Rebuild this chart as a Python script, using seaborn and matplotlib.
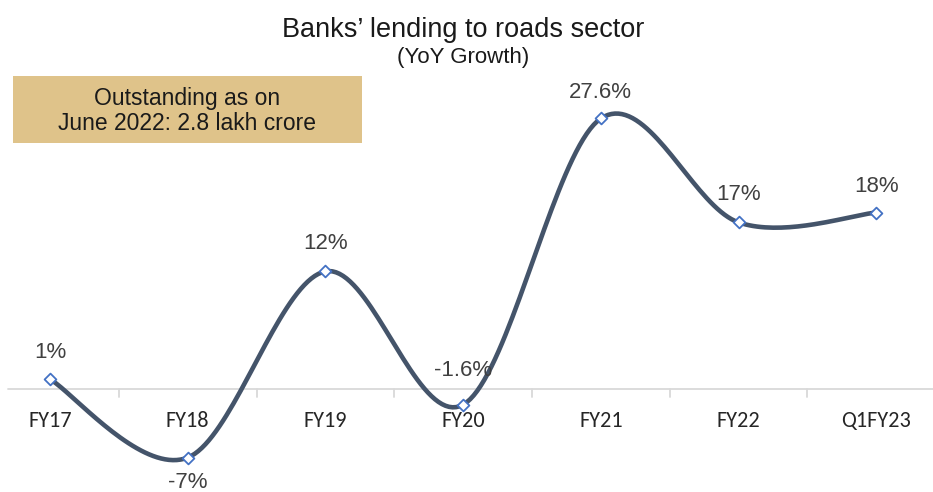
import numpy as np
import pandas as pd
import matplotlib
matplotlib.use("Agg")
import matplotlib.pyplot as plt
from matplotlib.patches import Rectangle
import seaborn as sns

periods = ["FY17", "FY18", "FY19", "FY20", "FY21", "FY22", "Q1FY23"]
growth = [1.0, -7.0, 12.0, -1.6, 27.6, 17.0, 18.0]
value_labels = ["1%", "-7%", "12%", "-1.6%", "27.6%", "17%", "18%"]
label_offsets = [2.7, -2.5, 2.8, 3.5, 2.7, 2.8, 2.7]

LINE = "#44546A"
MARKER_EDGE = "#4472C4"
TEXT = "#404040"
BOX = "#DFC38A"

sns.set_theme(style="white")
plt.rcParams["font.family"] = ["Liberation Sans", "DejaVu Sans"]

fig = plt.figure(figsize=(9.33, 4.92), dpi=100)
ax = fig.add_axes([0, 0, 1, 1])

# Smooth curve through the points (cardinal spline, Excel-style smoothing)
x = np.arange(len(growth), dtype=float)
y = np.array(growth)
xp = np.concatenate([[x[0] - (x[1] - x[0])], x, [x[-1] + (x[-1] - x[-2])]])
yp = np.concatenate([[y[0]], y, [y[-1]]])
xs, ys = [], []
t = np.linspace(0, 1, 40)
for i in range(len(x) - 1):
    p0, p1, p2, p3 = [np.array([xp[i + k], yp[i + k]]) for k in range(4)]
    if i == 0:
        p0 = p1
    if i == len(x) - 2:
        p3 = p2
    c1 = p1 + (p2 - p0) / 6
    c2 = p2 - (p3 - p1) / 6
    for tt in t[:-1] if i < len(x) - 2 else t:
        b = ((1 - tt) ** 3) * p1 + 3 * ((1 - tt) ** 2) * tt * c1 + 3 * (1 - tt) * tt ** 2 * c2 + tt ** 3 * p2
        xs.append(b[0])
        ys.append(b[1])
curve = pd.DataFrame({"x": xs, "y": ys})
points = pd.DataFrame({"x": x, "y": y})

# Category axis baseline and separators
ax.axhline(0, xmin=8 / 933, xmax=1, color="#D9D9D9", lw=1.3, zorder=1)
for b in np.arange(0.5, len(periods) - 1, 1.0):
    ax.plot([b, b], [0, -0.85], color="#D9D9D9", lw=1.3, zorder=1)

sns.lineplot(data=curve, x="x", y="y", ax=ax, color=LINE, lw=3.3,
             sort=False, estimator=None, zorder=3)
sns.scatterplot(data=points, x="x", y="y", ax=ax, marker="D", s=36,
                facecolor="white", edgecolor=MARKER_EDGE, linewidth=1.3,
                zorder=4)

for xi, yi, lab, off in zip(x, y, value_labels, label_offsets):
    ax.text(xi, yi + off, lab, ha="center", va="center", fontsize=16,
            color=TEXT)

for xi, name in zip(x, periods):
    ax.text(xi, -3.3, name, ha="center", va="center", fontsize=16,
            color="#262626", family=["Carlito", "Open Sans", "DejaVu Sans"])

ax.set_xlim(-0.363, 6.412)
ax.set_ylim(-10.51, 39.69)
ax.set_axis_off()

fig.text(463 / 933, 1 - 30 / 492, "Banks\u2019 lending to roads sector",
         ha="center", va="center", fontsize=19.5, color="#1a1a1a")
fig.text(463 / 933, 1 - 58 / 492, "(YoY Growth)", ha="center", va="center",
         fontsize=16, color="#1a1a1a")

fig.patches.append(Rectangle((13 / 933, 1 - 143 / 492), 349 / 933, 67 / 492,
                             transform=fig.transFigure, facecolor=BOX,
                             edgecolor="none", zorder=0))
fig.text(187 / 933, 1 - 98 / 492, "Outstanding as on", ha="center",
         va="center", fontsize=16.5, color="#1a1a1a")
fig.text(187 / 933, 1 - 124 / 492, "June 2022: 2.8 lakh crore", ha="center",
         va="center", fontsize=16.5, color="#1a1a1a")

fig.savefig("out.png", dpi=100)
